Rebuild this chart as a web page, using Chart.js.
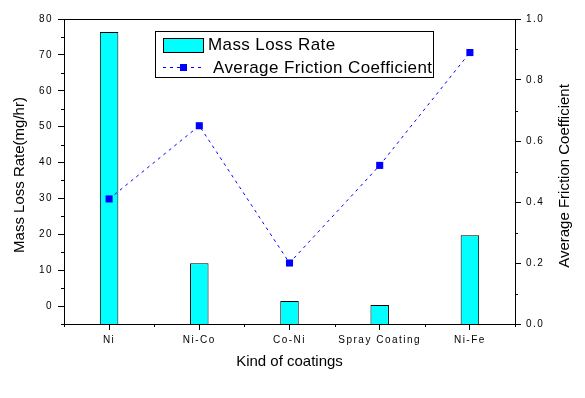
<!DOCTYPE html>
<html>
<head>
<meta charset="utf-8">
<script src="https://cdn.jsdelivr.net/npm/chart.js@4.4.0/dist/chart.umd.min.js"></script>
<style>
  html, body { margin: 0; padding: 0; background: #fff; }
  #wrap { width: 585px; height: 398px; }
</style>
</head>
<body>
<div id="wrap"><canvas id="chart" width="585" height="398"></canvas></div>
<script>
// dane wykresu
const categories = ['Ni', 'Ni-Co', 'Co-Ni', 'Spray Coating', 'Ni-Fe'];
const massLossRate = [76.4, 11.9, 1.4, 0.3, 19.7];
const frictionCoef = [0.41, 0.65, 0.20, 0.52, 0.89];
const leftTicks = [0, 10, 20, 30, 40, 50, 60, 70, 80];
const leftMinor = [-5, 5, 15, 25, 35, 45, 55, 65, 75];
const rightTicks = [0, 0.2, 0.4, 0.6, 0.8, 1.0];
const rightMinor = [0.1, 0.3, 0.5, 0.7, 0.9];

const FONT = 'Liberation Sans, Arial, sans-serif';

// rysowanie ramki, drobnych kresek, tytułów osi i legendy
const extrasPlugin = {
    id: 'extras',
    beforeDraw(chart) {
        chart.ctx.letterSpacing = '1.5px';
    },
    afterDraw(chart) {
        const ctx = chart.ctx;
        const a = chart.chartArea;
        const { x, y, y1 } = chart.scales;
        ctx.save();
        ctx.letterSpacing = '0px';
        ctx.strokeStyle = '#000';
        ctx.lineWidth = 1;

        // ramka
        ctx.strokeRect(Math.round(a.left) + 0.5, Math.round(a.top) + 0.5,
            Math.round(a.right - a.left), Math.round(a.bottom - a.top));

        // drobne kreski
        ctx.beginPath();
        leftMinor.forEach(v => {
            const py = Math.round(y.getPixelForValue(v)) + 0.5;
            ctx.moveTo(a.left - 3, py); ctx.lineTo(a.left, py);
        });
        rightMinor.forEach(v => {
            const py = Math.round(y1.getPixelForValue(v)) + 0.5;
            ctx.moveTo(a.right, py); ctx.lineTo(a.right + 3, py);
        });
        for (let i = -0.5; i < categories.length; i += 1) {
            const px = Math.round(x.getPixelForValue(i)) + 0.5;
            ctx.moveTo(px, a.bottom); ctx.lineTo(px, a.bottom + 3);
        }
        ctx.stroke();

        // tytuły osi
        ctx.fillStyle = '#000';
        ctx.font = '15px ' + FONT;
        ctx.textAlign = 'center';
        ctx.textBaseline = 'middle';
        ctx.fillText('Kind of coatings', (a.left + a.right) / 2, 362);

        ctx.save();
        ctx.translate(20, 175);
        ctx.rotate(-Math.PI / 2);
        ctx.fillText('Mass Loss Rate(mg/hr)', 0, 0);
        ctx.restore();

        ctx.save();
        ctx.translate(565, 176);
        ctx.rotate(-Math.PI / 2);
        ctx.fillText('Average Friction Coefficient', 0, 0);
        ctx.restore();

        // legenda
        const line = chart.data.datasets[0];
        const bars = chart.data.datasets[1];
        ctx.fillStyle = '#fff';
        ctx.fillRect(155, 31, 278, 46);
        ctx.strokeRect(155.5, 31.5, 278, 46);

        ctx.fillStyle = bars.backgroundColor;
        ctx.fillRect(163, 38, 40, 14);
        ctx.strokeRect(163.5, 38.5, 40, 14);

        ctx.strokeStyle = line.borderColor;
        ctx.setLineDash(line.borderDash);
        ctx.beginPath();
        ctx.moveTo(163, 67.5); ctx.lineTo(204, 67.5);
        ctx.stroke();
        ctx.setLineDash([]);
        ctx.fillStyle = line.pointBackgroundColor;
        ctx.fillRect(180, 64, 7, 7);

        ctx.fillStyle = '#000';
        ctx.font = '17px ' + FONT;
        ctx.letterSpacing = '0.4px';
        ctx.textAlign = 'left';
        ctx.fillText(bars.label, 208, 45);
        ctx.fillText(line.label, 213, 68);
        ctx.restore();
    }
};

const ctx = document.getElementById('chart').getContext('2d');
new Chart(ctx, {
    data: {
        labels: categories,
        datasets: [
            {
                type: 'line',
                label: 'Average Friction Coefficient',
                data: frictionCoef,
                yAxisID: 'y1',
                borderColor: '#0000ff',
                borderWidth: 1,
                borderDash: [3, 4],
                pointStyle: 'rect',
                pointRadius: 5,
                pointBorderWidth: 0,
                pointBackgroundColor: '#0000ff',
                tension: 0,
                order: 1
            },
            {
                type: 'bar',
                label: 'Mass Loss Rate',
                data: massLossRate,
                yAxisID: 'y',
                base: -5,
                backgroundColor: '#00ffff',
                borderColor: '#000',
                borderWidth: 1,
                categoryPercentage: 1,
                barPercentage: 0.205,
                order: 2
            }
        ]
    },
    options: {
        responsive: false,
        animation: false,
        layout: { padding: { top: 19, left: 0, right: 0, bottom: 0 } },
        plugins: { legend: { display: false }, tooltip: { enabled: false } },
        scales: {
            x: {
                type: 'category',
                offset: true,
                grid: { offset: false, drawOnChartArea: false, tickLength: 6, color: '#000' },
                border: { color: '#000' },
                ticks: { color: '#000', font: { size: 10, family: FONT }, padding: 4, maxRotation: 0, autoSkip: false },
                afterFit: s => { s.height = 74; }
            },
            y: {
                type: 'linear',
                position: 'left',
                min: -5,
                max: 80,
                afterBuildTicks: s => { s.ticks = leftTicks.map(v => ({ value: v })); },
                grid: { drawOnChartArea: false, tickLength: 6, color: '#000' },
                border: { color: '#000' },
                ticks: { color: '#000', font: { size: 10, family: FONT }, padding: 5 },
                afterFit: s => { s.width = 64; }
            },
            y1: {
                type: 'linear',
                position: 'right',
                min: 0,
                max: 1,
                afterBuildTicks: s => { s.ticks = rightTicks.map(v => ({ value: v })); },
                grid: { drawOnChartArea: false, tickLength: 6, color: '#000' },
                border: { color: '#000' },
                ticks: { color: '#000', font: { size: 10, family: FONT }, padding: 5, callback: v => v.toFixed(1) },
                afterFit: s => { s.width = 70; }
            }
        }
    },
    plugins: [extrasPlugin]
});
</script>
</body>
</html>
